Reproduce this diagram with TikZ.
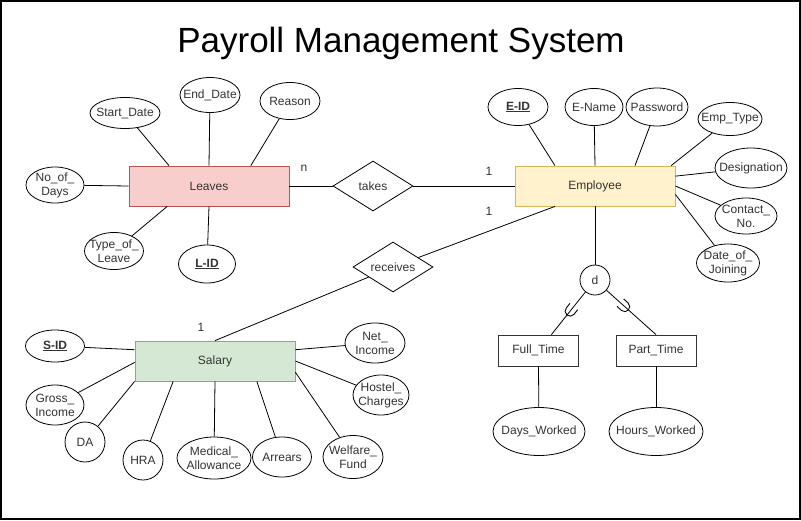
\documentclass[tikz,border=0pt]{standalone}
\usepackage{fontspec}
\setmainfont{Liberation Sans}
\usepackage{xcolor}
\usepackage{tikz}
\usetikzlibrary{shapes.geometric}
\usetikzlibrary{decorations.markings}
\definecolor{labelgray}{HTML}{333333}
\definecolor{leavesfill}{HTML}{F8CECC}
\definecolor{leavesline}{HTML}{B85450}
\definecolor{empfill}{HTML}{FFF2CC}
\definecolor{empline}{HTML}{D6B656}
\definecolor{salfill}{HTML}{D5E8D4}
\definecolor{salline}{HTML}{82B366}

\begin{document}
\begin{tikzpicture}[x=1pt, y=-1pt, line width=0.8pt,
	every node/.style={font=\fontsize{12}{14}\selectfont, text=labelgray},
	entity/.style={draw, minimum width=160, minimum height=40},
	attr/.style={ellipse, draw, inner sep=0pt},
	rel/.style={diamond, draw, aspect=1.6, inner sep=0pt, minimum width=80, minimum height=50},
	subent/.style={draw=labelgray, minimum width=80, minimum height=31},
	isa/.style={postaction=decorate, decoration={markings, mark=at position #1 with {\draw[line width=0.9pt] (-6,5) -- (0,5) arc[start angle=90, end angle=-90, radius=5] -- (-6,-5);}}}]
	\useasboundingbox (0,0) rectangle (801,520);
	\fill[white] (0,0) rectangle (801,520);
	\draw[line width=2pt] (1,1) rectangle (800,519);

	\node[font=\fontsize{35}{40}\selectfont, text=black, anchor=base] (title) at (401,52) {Payroll Management System};

	\node[entity, fill=leavesfill, draw=leavesline] (lv) at (209,186) {Leaves};
	\node[entity, fill=empfill, draw=empline] (emp) at (595,186) {Employee};
	\node[entity, fill=salfill, draw=salline] (sal) at (215,361) {Salary};
	\node[rel] (takes) at (373,186) {takes};
	\node[rel] (rec) at (393,267) {receives};
	\node[circle, draw, minimum size=30, inner sep=0pt] (disj) at (595,280) {d};
	\node[subent] (ftime) at (538.5,350.5) {Full\_Time};
	\node[subent] (ptime) at (656,350.5) {Part\_Time};
	\node[attr, minimum width=92, minimum height=48] (dw) at (539,431.5) {};
	\node[attr, minimum width=94, minimum height=48] (hw) at (656,431.5) {};
	\node (dwtext) at (dw.center) {Days\_Worked};
	\node (hwtext) at (hw.center) {Hours\_Worked};

	\foreach \nm/\x/\y/\ew/\eh/\lbl/\anc in {
		sd/125/113/70/31/{Start\_Date}/lv.153,
		ed/210/95/60/35/{End\_Date}/lv.north,
		rs/290/101/60/37/{Reason}/lv.26,
		nd/55/185/58/36/{No\_of\_\\Days}/lv.west,
		tl/114/251/59/37/{Type\_of\_\\Leave}/lv.206,
		lid/207/264/57/38/{\textbf{\underline{L-ID}}}/lv.south,
		eid/518/107/60/37/{\textbf{\underline{E-ID}}}/emp.153,
		en/594/107/58/37/{E-Name}/emp.north,
		pw/657/107/62/38/{Password}/emp.27,
		et/730/119/64/33/{Emp\_Type}/emp.15,
		dg/751/168/72/40/{Designation}/emp.7,
		cn/746/216/62/36/{Contact\_\\No.}/emp.east,
		dj/728/263/63/38/{Date\_of\_\\Joining}/emp.354,
		sid/55/346/59/32/{\textbf{\underline{S-ID}}}/sal.172,
		gi/55/405/58/40/{Gross\_\\Income}/sal.181,
		da/85/442/40/40/{DA}/sal.south west,
		hra/143/460/40/40/{HRA}/sal.206,
		ma/214/458/74/42/{Medical\_\\Allowance}/sal.south,
		ar/282/457/59/40/{Arrears}/sal.334,
		wf/353/457/60/43/{Welfare\_\\Fund}/sal.352,
		ni/375/343/60/40/{Net\_\\Income}/sal.8,
		hc/381/395/56/40/{Hostel\_\\Charges}/sal.east}
	{
		\node[attr, minimum width=\ew, minimum height=\eh, label={[align=center]center:\lbl}] (\nm) at (\x,\y) {};
		\draw (\nm) -- (\anc);
	}

	\draw (lv) -- (takes);
	\draw (takes) -- (emp);
	\draw (sal.north) -- (rec);
	\draw (rec) -- (emp.207);
	\draw (emp.south) -- (disj);
	\draw[isa=0.45] (disj) -- (ftime.51);
	\draw[isa=0.37] (disj) -- (ptime.north);
	\draw (ftime.south) -- (dw);
	\draw (ptime.south) -- (hw);

	\node (cardn) at (304,168) {n};
	\node (cardea) at (489,171) {1};
	\node (cardeb) at (489,211) {1};
	\node (cards) at (201,327) {1};
\end{tikzpicture}
\end{document}
